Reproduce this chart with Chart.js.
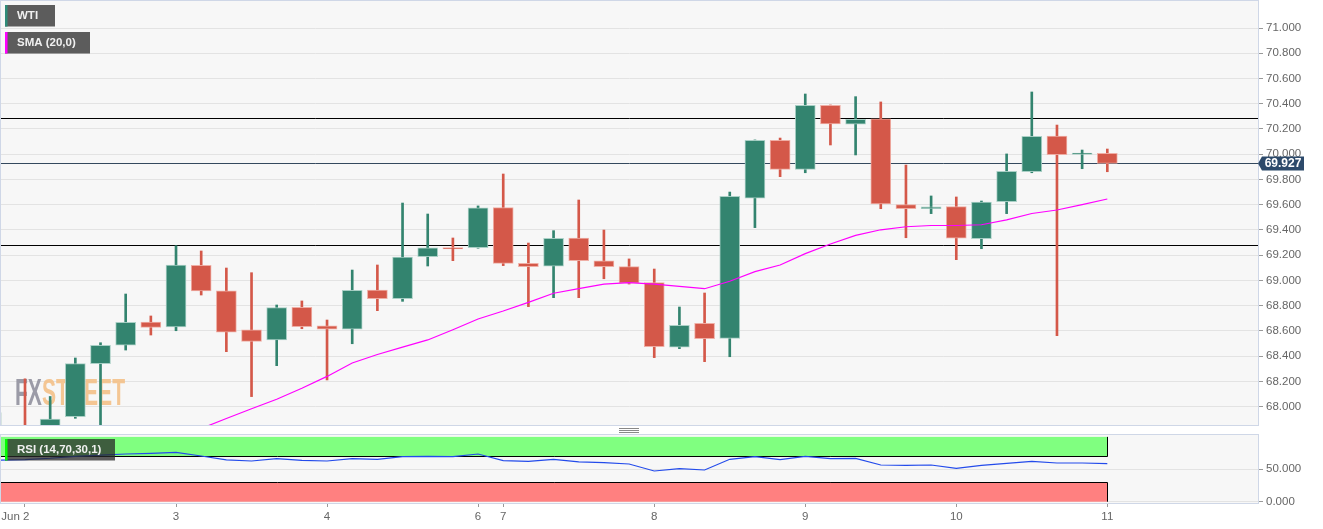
<!DOCTYPE html>
<html><head><meta charset="utf-8">
<script src="https://cdn.jsdelivr.net/npm/chart.js@4.4.0/dist/chart.umd.min.js"></script>
<style>
html,body{margin:0;padding:0;background:#fff;width:1323px;height:529px;overflow:hidden}
canvas{display:block;position:absolute;left:0}
#c1{top:0}
#c2{top:434px}
</style></head><body>
<canvas id="c1" width="1323" height="434" style="width:1323px;height:434px"></canvas>
<canvas id="c2" width="1323" height="95" style="width:1323px;height:95px"></canvas>
<script>
// ---- data (4-hour candles, WTI) ----
const candleIdx = [-1,0,1,2,3,4,5,6,7,8,9,10,11,12,13,14,15,16,17,18,19,20,21,22,23,24,25,26,27,28,29,30,31,32,33,34,35,36,37,38,39,40,41,42,43];
const opens  = [67.70,67.84,67.76,67.92,68.34,68.486,68.67,68.631,69.12,68.918,68.609,68.528,68.787,68.639,68.613,68.924,68.855,69.188,69.259,69.259,69.576,69.135,69.112,69.336,69.154,69.109,68.982,68.470,68.660,68.541,69.651,70.110,69.880,70.387,70.237,70.281,69.600,69.568,69.584,69.330,69.624,69.861,70.144,69.999,70.007];
const highs  = [67.95,68.22,68.08,68.385,68.506,68.892,68.718,69.275,69.233,69.098,69.061,68.805,68.837,68.686,69.082,69.122,69.613,69.526,69.336,69.590,69.843,69.296,69.394,69.637,69.399,69.170,69.090,68.789,68.900,69.700,70.113,70.128,70.477,70.390,70.456,70.414,69.914,69.669,69.661,69.629,70.002,70.493,70.231,70.033,70.041];
const lows   = [67.65,67.62,67.70,67.907,67.80,68.448,68.567,68.601,68.884,68.435,68.079,68.324,68.617,68.211,68.498,68.760,68.834,69.114,69.156,69.255,69.117,68.792,68.863,68.863,69.013,68.971,68.388,68.459,68.356,68.395,69.418,69.822,69.853,70.073,69.994,69.568,69.338,69.529,69.164,69.251,69.529,69.853,68.562,69.885,69.861];
const closes = [67.80,67.74,67.90,68.34,68.486,68.668,68.628,69.122,68.916,68.589,68.517,68.784,68.633,68.613,68.922,68.855,69.185,69.257,69.249,69.574,69.135,69.109,69.334,69.156,69.109,68.977,68.475,68.644,68.538,69.666,70.110,69.880,70.387,70.239,70.277,69.605,69.568,69.582,69.334,69.621,69.864,70.142,69.996,70.009,69.927];
const smaIdx = [7,8,9,10,11,12,13,14,15,16,17,18,19,20,21,22,23,24,25,26,27,28,29,30,31,32,33,34,35,36,37,38,39,40,41,42,43];
const sma    = [67.826,67.906,67.983,68.058,68.145,68.239,68.345,68.413,68.471,68.528,68.609,68.694,68.757,68.826,68.898,68.934,68.971,68.982,68.971,68.953,68.934,68.993,69.069,69.122,69.212,69.288,69.357,69.401,69.425,69.435,69.435,69.441,69.479,69.530,69.558,69.601,69.645];
const rsi    = [64,65,67,70,72,73.6,74.7,76.2,70.5,64.4,62.8,66.4,63.9,62.8,66.4,65.4,69.5,70,69.5,73.6,63.3,62.3,65.4,61.3,60.2,58.2,47.4,50.9,48.9,65.4,69.5,64.8,70,66.4,66.9,56.6,56.1,56.6,51.5,56.1,59.2,62.3,59.7,59.7,58.7];
const priceTicks = [68.0,68.2,68.4,68.6,68.8,69.0,69.2,69.4,69.6,69.8,70.0,70.2,70.4,70.6,70.8,71.0];
const rsiTicks = [0,50];
const dayIdx    = [0,6,12,18,19,25,31,37,43];
const dayLabels = ['Jun 2','3','4','6','7','8','9','10','11'];
const levels = [70.287, 69.280];
const lastPrice = 69.927;
const rsiOverbought = 70, rsiOversold = 30, rsiTop = 100, rsiBottom = 0;

// ---- view settings ----
const X_MIN = -0.9535, X_MAX = 48.987;
const GREEN = '#33846f', RED = '#d45849';
const FONT = '"Liberation Sans", Arial, sans-serif';
const AXFONT = {family: FONT, size: 11.5};
Chart.defaults.font.family = FONT;

const up = candleIdx.map((_, k) => closes[k] >= opens[k]);
const bodyData = candleIdx.map((x, k) => ({x, y:[opens[k], closes[k]]}));
const wickData = candleIdx.map((x, k) => ({x, y:[lows[k], highs[k]]}));
const BORDER = '#cfd7e7';

function noPad(s) { s.paddingTop = 0; s.paddingBottom = 0; s.paddingLeft = 0; s.paddingRight = 0; }

function legendBox(ctx, x, y, w, h, stripe, text) {
  ctx.fillStyle = 'rgba(40,40,40,0.75)';
  ctx.fillRect(x, y, w, h);
  ctx.fillStyle = stripe;
  ctx.fillRect(x, y, 2.5, h);
  ctx.fillStyle = '#f0f0f0';
  ctx.font = 'bold 11.5px ' + FONT;
  ctx.textAlign = 'left';
  ctx.textBaseline = 'middle';
  ctx.fillText(text, x + 12, y + h / 2 + 0.5);
}

const mainDeco = {
  id: 'mainDeco',
  beforeDraw(chart) {
    const {ctx, chartArea: a} = chart;
    ctx.save();
    ctx.fillStyle = '#fff'; ctx.fillRect(0, 0, chart.width, chart.height);
    ctx.fillStyle = '#f7f7f7'; ctx.fillRect(a.left, a.top, a.right - a.left, a.bottom - a.top);
    ctx.restore();
  },
  beforeDatasetsDraw(chart) {
    const {ctx, chartArea: a, scales: {y}} = chart;
    ctx.save();
    ctx.font = 'bold 36px ' + FONT;
    ctx.textBaseline = 'alphabetic';
    const w1 = ctx.measureText('FX').width, w2 = ctx.measureText('STREET').width;
    ctx.translate(15, 405); ctx.scale(110 / (w1 + w2), 1);
    ctx.fillStyle = 'rgba(150,150,162,0.95)'; ctx.fillText('FX', 0, 0);
    ctx.fillStyle = 'rgba(243,192,135,0.9)'; ctx.fillText('STREET', w1, 0);
    ctx.restore();
    ctx.save();
    ctx.lineWidth = 1;
    ctx.strokeStyle = '#000';
    levels.forEach(v => {
      const py = Math.round(y.getPixelForValue(v)) + 0.5;
      ctx.beginPath(); ctx.moveTo(a.left, py); ctx.lineTo(a.right, py); ctx.stroke();
    });
    ctx.strokeStyle = '#34495e';
    const pp = Math.round(y.getPixelForValue(lastPrice)) + 0.5;
    ctx.beginPath(); ctx.moveTo(a.left, pp); ctx.lineTo(a.right, pp); ctx.stroke();
    ctx.restore();
  },
  afterDraw(chart) {
    const {ctx, chartArea: a, scales: {y}} = chart;
    ctx.save();
    ctx.strokeStyle = BORDER; ctx.lineWidth = 1;
    ctx.strokeRect(a.left - 0.5, a.top - 0.5, a.right - a.left + 1, a.bottom - a.top + 1);
    legendBox(ctx, 5, 5, 50, 21.5, '#2e8b78', 'WTI');
    legendBox(ctx, 5, 32, 85, 21.5, '#ff00ff', 'SMA (20,0)');
    const py = Math.round(y.getPixelForValue(lastPrice)) + 0.5;
    ctx.fillStyle = '#2d4a6b';
    ctx.beginPath();
    ctx.moveTo(a.right, py); ctx.lineTo(a.right + 4, py - 7); ctx.lineTo(1304, py - 7);
    ctx.lineTo(1304, py + 7); ctx.lineTo(a.right + 4, py + 7); ctx.closePath(); ctx.fill();
    ctx.fillStyle = '#fff';
    ctx.font = 'bold 12px ' + FONT;
    ctx.textAlign = 'center'; ctx.textBaseline = 'middle';
    ctx.fillText(lastPrice.toFixed(3), 1283, py + 0.5);
    ctx.strokeStyle = '#888';
    [428.5, 430.5, 432.5].forEach(hy => { ctx.beginPath(); ctx.moveTo(619, hy); ctx.lineTo(639, hy); ctx.stroke(); });
    ctx.restore();
  }
};

new Chart(document.getElementById('c1'), {
  type: 'bar',
  data: { datasets: [
    {type:'line', data: smaIdx.map((x, k) => ({x, y: sma[k]})), borderColor:'#ff00ff', borderWidth:1.2, pointRadius:0, tension:0, order:0},
    {type:'bar', data: bodyData, backgroundColor: up.map(u => u ? GREEN : RED),
      borderColor: up.map(u => u ? 'rgba(165,205,195,0.95)' : 'rgba(238,170,160,0.95)'),
      borderWidth: 1, borderSkipped: false, barThickness: 20, grouped: false, order: 1},
    {type:'bar', data: wickData, backgroundColor: up.map(u => u ? GREEN : RED),
      borderWidth: 0, barThickness: 2, grouped: false, order: 2}
  ]},
  options: {
    responsive: false, animation: false, devicePixelRatio: 1,
    layout: {autoPadding: false, padding: {left: 1, top: 1, right: 0, bottom: 9}},
    plugins: {legend: {display: false}, tooltip: {enabled: false}},
    scales: {
      x: {type: 'linear', min: X_MIN, max: X_MAX, offset: false, display: false},
      y: {position: 'right', min: 67.854, max: 71.214,
        afterBuildTicks: s => { s.ticks = priceTicks.map(v => ({value: v})); },
        afterFit: s => { s.width = 65; noPad(s); },
        ticks: {callback: v => Number(v).toFixed(3), color: '#666', font: AXFONT, padding: 3},
        grid: {color: '#e3e3e3', tickLength: 5, tickColor: '#999'},
        border: {display: false}}
    }
  },
  plugins: [mainDeco]
});

const rsiDeco = {
  id: 'rsiDeco',
  beforeDraw(chart) {
    const {ctx, chartArea: a} = chart;
    ctx.save();
    ctx.fillStyle = '#fff'; ctx.fillRect(0, 0, chart.width, chart.height);
    ctx.fillStyle = '#f7f7f7'; ctx.fillRect(a.left, a.top, a.right - a.left, a.bottom - a.top);
    ctx.restore();
  },
  beforeDatasetsDraw(chart) {
    const {ctx, chartArea: a, scales: {x, y}} = chart;
    const xe = Math.round(x.getPixelForValue(candleIdx[candleIdx.length - 1])) + 0.5;
    const yTop = y.getPixelForValue(rsiTop), yOb = Math.round(y.getPixelForValue(rsiOverbought)) + 0.5;
    const yOs = Math.round(y.getPixelForValue(rsiOversold)) + 0.5, yBot = y.getPixelForValue(rsiBottom);
    ctx.save();
    ctx.fillStyle = '#80ff80'; ctx.fillRect(a.left, yTop, xe - a.left, yOb - yTop);
    ctx.fillStyle = '#ff8080'; ctx.fillRect(a.left, yOs, xe - a.left, yBot - yOs);
    ctx.strokeStyle = '#000'; ctx.lineWidth = 1;
    ctx.beginPath();
    ctx.moveTo(a.left, yOb); ctx.lineTo(xe, yOb); ctx.lineTo(xe, yTop);
    ctx.moveTo(a.left, yOs); ctx.lineTo(xe, yOs); ctx.lineTo(xe, yBot);
    ctx.stroke();
    ctx.restore();
  },
  afterDraw(chart) {
    const {ctx, chartArea: a} = chart;
    ctx.save();
    ctx.strokeStyle = BORDER; ctx.lineWidth = 1;
    ctx.strokeRect(a.left - 0.5, a.top - 0.5, a.right - a.left + 1, a.bottom - a.top + 1);
    legendBox(ctx, 5, 5, 110, 21.5, '#00ff00', 'RSI (14,70,30,1)');
    ctx.restore();
  }
};

new Chart(document.getElementById('c2'), {
  type: 'line',
  data: { datasets: [
    {data: candleIdx.map((x, k) => ({x, y: rsi[k]})), borderColor: 'rgb(35,75,235)', borderWidth: 1.2, pointRadius: 0, tension: 0}
  ]},
  options: {
    responsive: false, animation: false, devicePixelRatio: 1,
    layout: {autoPadding: false, padding: {left: 1, top: 1, right: 0, bottom: 0}},
    plugins: {legend: {display: false}, tooltip: {enabled: false}},
    scales: {
      x: {type: 'linear', min: X_MIN, max: X_MAX, offset: false,
        afterBuildTicks: s => { s.ticks = dayIdx.map(v => ({value: v})); },
        afterFit: s => { s.height = 26; noPad(s); },
        ticks: {autoSkip: false, maxRotation: 0, color: '#666', font: AXFONT, padding: 3,
          callback: v => { const k = dayIdx.indexOf(v); return k === 0 ? dayLabels[k] + '      ' : dayLabels[k]; }},
        grid: {drawOnChartArea: false, tickLength: 4, tickColor: '#999'},
        border: {display: false}},
      y: {position: 'right', min: -2, max: 102.9,
        afterBuildTicks: s => { s.ticks = rsiTicks.map(v => ({value: v})); },
        afterFit: s => { s.width = 65; noPad(s); },
        ticks: {callback: v => Number(v).toFixed(3), color: '#666', font: AXFONT, padding: 3},
        grid: {color: '#e3e3e3', tickLength: 5, tickColor: '#999'},
        border: {display: false}}
    }
  },
  plugins: [rsiDeco]
});
</script>
</body></html>
